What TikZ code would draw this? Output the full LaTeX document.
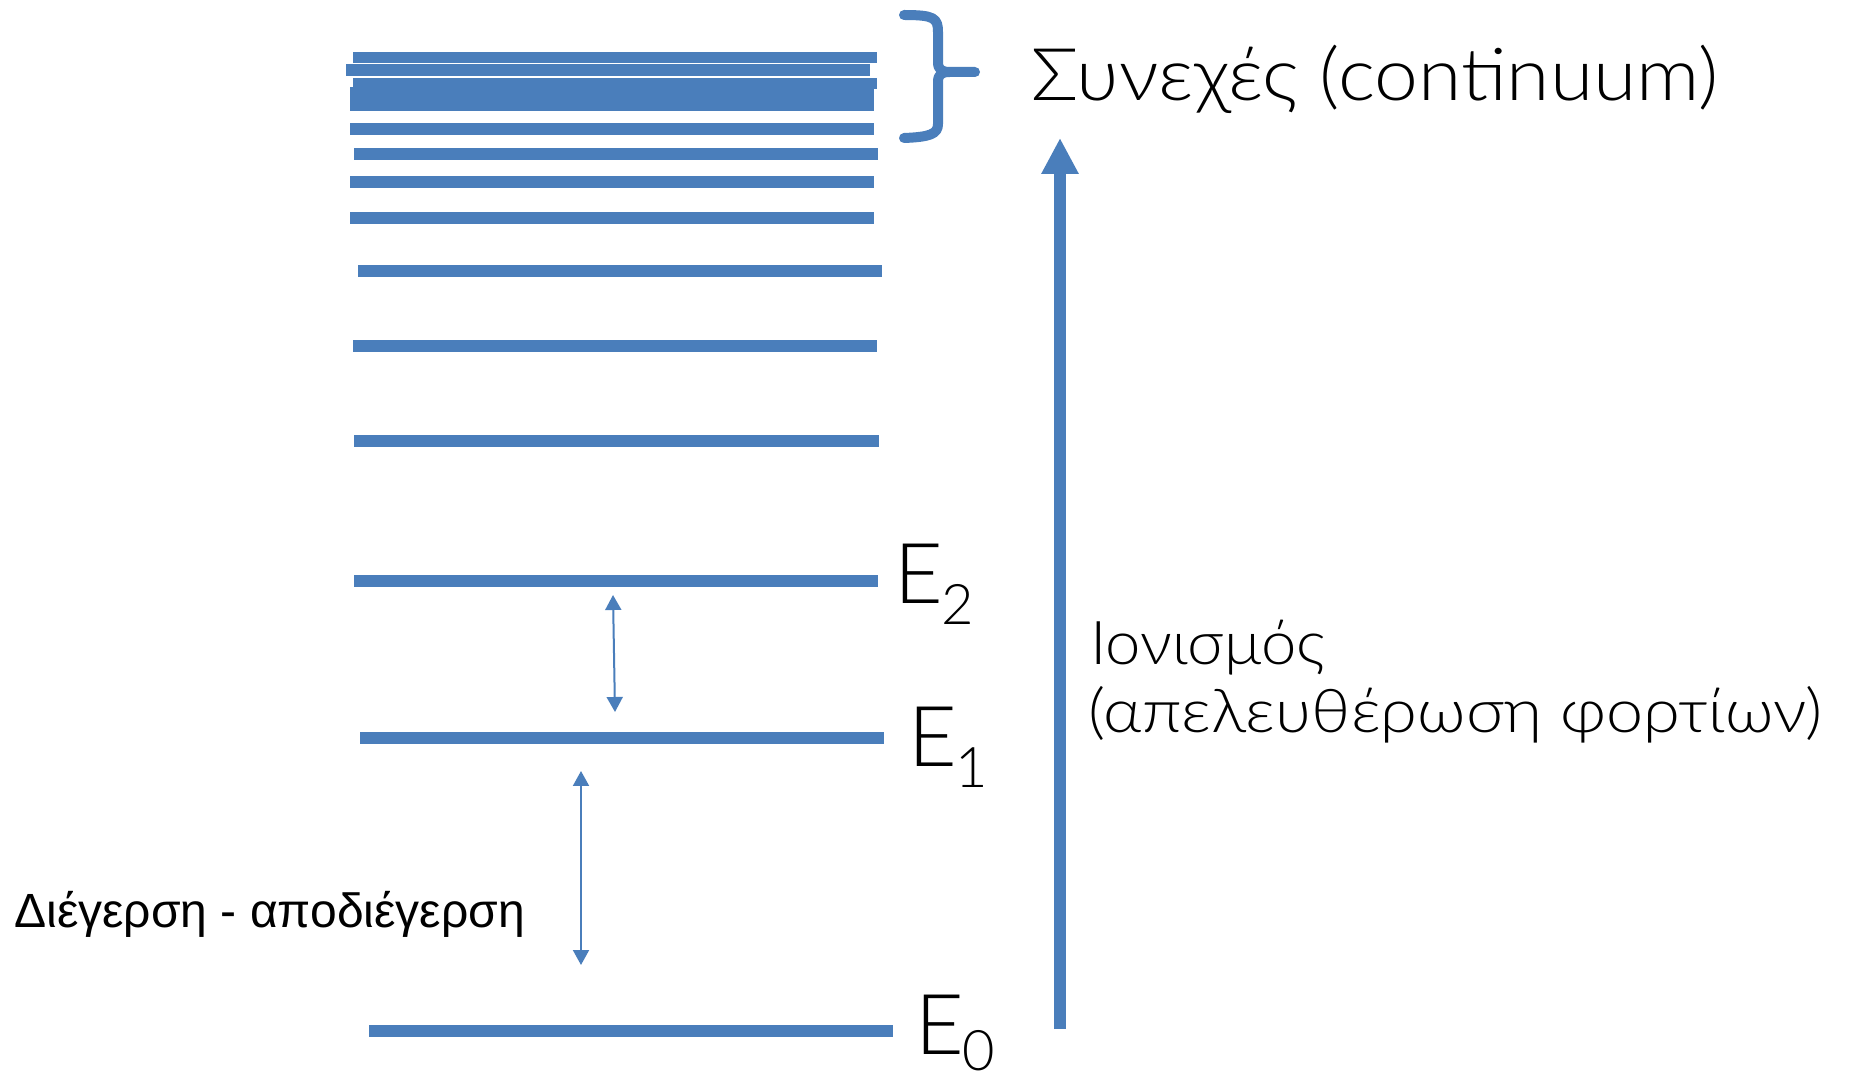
\documentclass[tikz,border=0pt]{standalone}
\usepackage{fontspec}
\usepackage{graphicx}
\setmainfont{Liberation Sans}
\newfontfamily\thinfont{Lato Light}
\usetikzlibrary{arrows.meta}
\definecolor{lvl}{HTML}{4A7EBB}
\newcommand{\subdigit}[2]{\kern-1pt\raisebox{#2}{\fontsize{28}{28}\selectfont #1}}
\begin{document}
\begin{tikzpicture}[x=0.5pt,y=-0.5pt,
  level/.style={draw=lvl,line width=5.85pt},
  smallarrow/.style={draw=lvl,line width=1pt,{Triangle[width=8pt,length=7.5pt]}-{Triangle[width=8pt,length=7.5pt]}},
  bigarrow/.style={draw=lvl,line width=6pt,-{Triangle[width=17.5pt,length=18pt]}},
  bracestyle/.style={draw=lvl,line width=5pt,line cap=round,line join=round},
  thinlabel/.style={inner sep=0pt,anchor=base west,font=\thinfont},
  elabel/.style={inner sep=0pt,anchor=base west,font=\thinfont\fontsize{42}{42}\selectfont}]
\useasboundingbox (0,0) rectangle (1849,1079);
% continuum levels
\foreach \yy/\xa/\xb in {57.5/353/877, 70/346/870, 83.5/353/877, 93/350/874, 105/350/874,
  129/350/874, 154/354/878, 182/350/874, 218/350/874, 271/358/882, 346/353/877, 441/354/879}
  \draw[level] (\xa,\yy) -- (\xb,\yy);
% named levels
\coordinate (e2l) at (354,581); \coordinate (e2r) at (878,581);
\coordinate (e1l) at (360,738); \coordinate (e1r) at (884,738);
\coordinate (e0l) at (369,1031); \coordinate (e0r) at (893,1031);
\draw[level] (e2l) -- (e2r);
\draw[level] (e1l) -- (e1r);
\draw[level] (e0l) -- (e0r);
% labels of levels
\node[elabel] (E2) at (894,604) {E\subdigit{2}{-10.5pt}};
\node[elabel] (E1) at (908,767) {E\subdigit{1}{-10.5pt}};
\node[elabel] (E0) at (915,1054) {E\subdigit{0}{-8pt}};
% transition arrows
\coordinate (a1t) at (613,595); \coordinate (a1b) at (615,712);
\coordinate (a2t) at (581,771); \coordinate (a2b) at (581,965);
\draw[smallarrow] (a1t) -- (a1b);
\draw[smallarrow] (a2t) -- (a2b);
\node[inner sep=0pt,anchor=base west,font=\fontsize{24}{24}\selectfont] (exc) at (14,928) {Διέγερση - αποδιέγερση};
% ionisation arrow
\coordinate (ionb) at (1060,1029); \coordinate (iont) at (1060,138);
\draw[bigarrow] (ionb) -- (iont);
\node[thinlabel,font=\thinfont\fontsize{30.2}{30.2}\selectfont] (ion1) at (1090,665) {\scalebox{1.05}[1]{Ιονισμός}};
\node[thinlabel,font=\thinfont\fontsize{30.2}{30.2}\selectfont] (ion2) at (1088,733) {\scalebox{1.1}[1]{(απελευθέρωση φορτίων)}};
% brace
\draw[bracestyle] (904,15) .. controls (934,15) and (938,18) .. (938,32) -- (938,62)
  .. controls (938,70) and (942,72) .. (950,72) -- (975,72)
  (950,72) .. controls (942,72) and (938,74) .. (938,82) -- (938,124)
  .. controls (938,134) and (930,137) .. (904,138);
\node[thinlabel,font=\thinfont\fontsize{36.3}{36.3}\selectfont] (cont) at (1031,101) {\scalebox{1.084}[1]{Συνεχές (continuum)}};
\end{tikzpicture}
\end{document}
